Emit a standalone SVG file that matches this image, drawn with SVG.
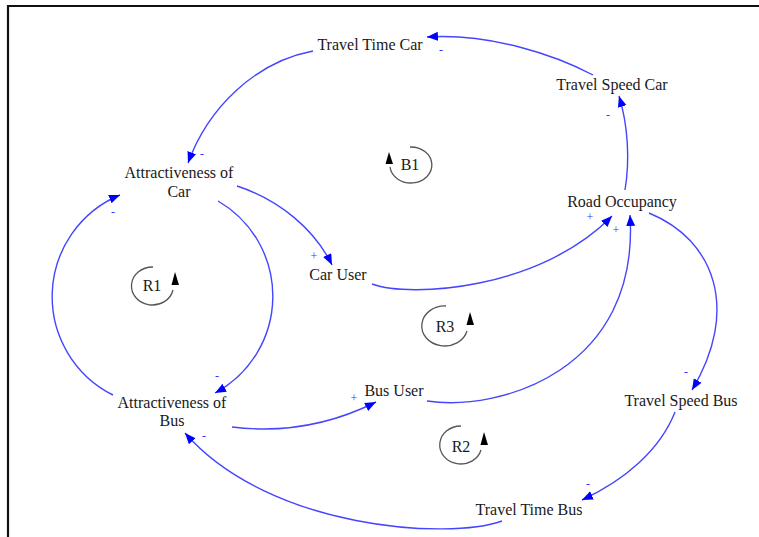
<svg xmlns="http://www.w3.org/2000/svg" width="759" height="537" viewBox="0 0 759 537">
  <style>
    .node { font-family: "Liberation Serif", "Times New Roman", serif; font-size: 16px; fill: #1a1a1a; text-anchor: middle; }
    .link { fill: none; stroke: #4545ff; stroke-width: 1.4; marker-end: url(#arrow); }
    .sign { font-family: "Liberation Serif", "Times New Roman", serif; font-size: 12px; fill: #3333ff; text-anchor: middle; }
    .loop { fill: none; stroke: #555555; stroke-width: 1.3; }
    .loopArrow { fill: #000000; }
    .frame { stroke: #111111; stroke-width: 2.2; fill: none; }
  </style>
  <defs>
    <marker id="arrow" markerUnits="userSpaceOnUse" markerWidth="12" markerHeight="10" refX="11" refY="4.5" orient="auto">
      <path d="M0,0 L11,4.5 L0,9 Z" fill="#0000ff"/>
    </marker>
  </defs>

  <rect width="759" height="537" fill="#ffffff"/>

  <!-- frame -->
  <path class="frame" d="M8,537 L8,6 L759,6"/>

  <!-- causal links -->
  <g id="connectors">
    <path class="link" d="M593,75 C555,55 490,33 427,37"/>
    <path class="link" d="M313,51 C255,62 208,108 188,163"/>
    <path class="link" d="M625,190 C630,160 628,125 619,96"/>
    <path class="link" d="M237,186 C280,200 315,230 332,265"/>
    <path class="link" d="M372,284 C410,298 540,290 612,216"/>
    <path class="link" d="M427,401 C500,412 640,370 630,215"/>
    <path class="link" d="M649,213 C715,240 740,310 692,390"/>
    <path class="link" d="M675,412 C660,450 625,480 582,500"/>
    <path class="link" d="M502,521 C450,540 270,530 185,433"/>
    <path class="link" d="M232,427 C280,433 330,425 376,402"/>
    <path class="link" d="M218,201 A110,110 0 0 1 215,393"/>
    <path class="link" d="M113,395 A110,110 0 0 1 120,195"/>

    <!-- polarity signs -->
    <text class="sign" x="441" y="54">-</text>
    <text class="sign" x="202" y="158">-</text>
    <text class="sign" x="608" y="119">-</text>
    <text class="sign" x="314" y="260">+</text>
    <text class="sign" x="590" y="221">+</text>
    <text class="sign" x="616" y="234">+</text>
    <text class="sign" x="686" y="376">-</text>
    <text class="sign" x="588" y="488">-</text>
    <text class="sign" x="204" y="440">-</text>
    <text class="sign" x="354" y="402">+</text>
    <text class="sign" x="217" y="380">-</text>
    <text class="sign" x="113" y="216">-</text>
  </g>

  <!-- variables -->
  <g id="travel-time-car"><text class="node" x="370" y="50">Travel Time Car</text></g>
  <g id="travel-speed-car"><text class="node" x="612" y="90">Travel Speed Car</text></g>
  <g id="attractiveness-car"><text class="node" x="179" y="178">Attractiveness of</text><text class="node" x="179" y="197">Car</text></g>
  <g id="road-occupancy"><text class="node" x="622" y="207">Road Occupancy</text></g>
  <g id="car-user"><text class="node" x="338" y="280">Car User</text></g>
  <g id="bus-user"><text class="node" x="394" y="396">Bus User</text></g>
  <g id="attractiveness-bus"><text class="node" x="172" y="408">Attractiveness of</text><text class="node" x="172" y="426">Bus</text></g>
  <g id="travel-speed-bus"><text class="node" x="681" y="406">Travel Speed Bus</text></g>
  <g id="travel-time-bus"><text class="node" x="529" y="515">Travel Time Bus</text></g>

  <!-- loop identifiers -->
  <g id="loop-b1">
    <path class="loop" d="M410,147 A21,18 0 1 1 390,167"/>
    <path class="loopArrow" d="M389,152 L385.5,164 L393,164 Z"/>
    <text class="node" x="410" y="170">B1</text>
  </g>
  <g id="loop-r1">
    <path class="loop" d="M153,267 A21,19 0 1 0 173,290"/>
    <path class="loopArrow" d="M175,272 L171.5,285 L179,285 Z"/>
    <text class="node" x="152" y="291">R1</text>
  </g>
  <g id="loop-r3">
    <path class="loop" d="M446,306 A23,20 0 1 0 467,331"/>
    <path class="loopArrow" d="M470,312 L466.5,325 L474,325 Z"/>
    <text class="node" x="445" y="332">R3</text>
  </g>
  <g id="loop-r2">
    <path class="loop" d="M461,426 A21,19 0 1 0 481,450"/>
    <path class="loopArrow" d="M484,432 L480.5,445 L488,445 Z"/>
    <text class="node" x="461" y="452">R2</text>
  </g>
</svg>
